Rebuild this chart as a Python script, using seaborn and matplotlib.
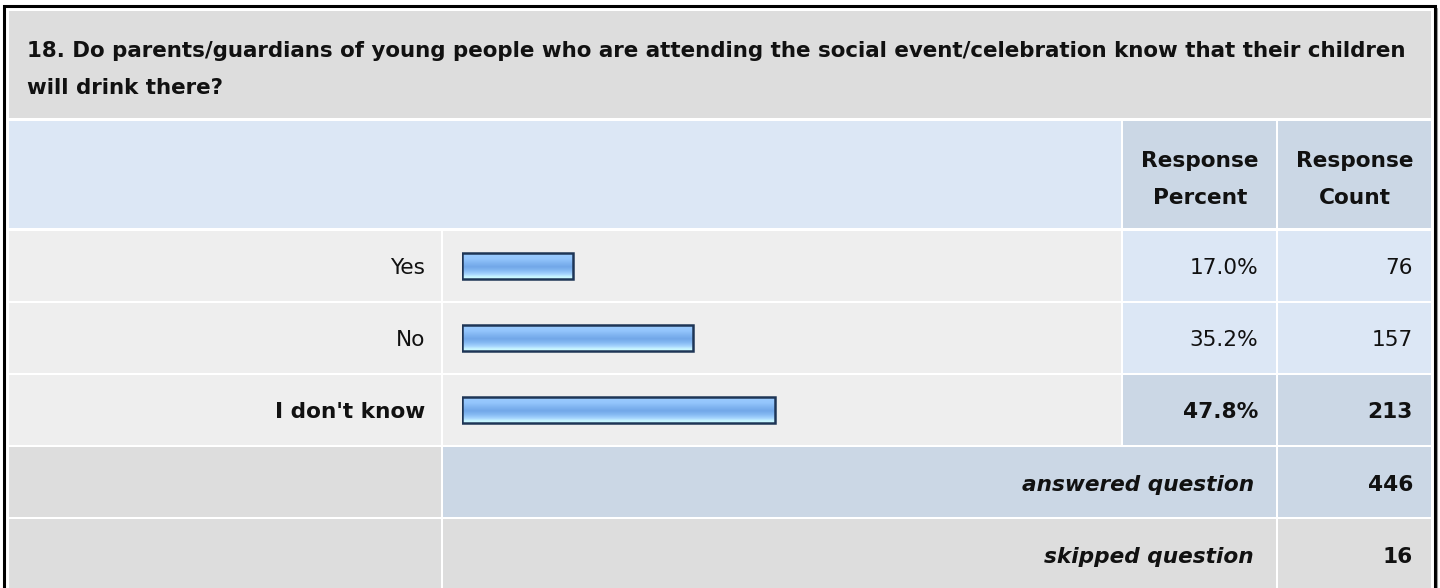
import numpy as np
import matplotlib
matplotlib.use("Agg")
import matplotlib.pyplot as plt
from matplotlib.patches import Rectangle
from matplotlib.colors import LinearSegmentedColormap
import seaborn as sns

# survey data
question_lines = [
    "18. Do parents/guardians of young people who are attending the social event/celebration know that their children",
    "will drink there?",
]
answers = ["Yes", "No", "I don't know"]
percents = [17.0, 35.2, 47.8]
counts = [76, 157, 213]
answered = 446
skipped = 16

sns.set_theme(style="white")
plt.rcParams['font.family'] = ['DejaVu Sans']
FS = 15.6
TITLE_FS = 15.4

GRAY = '#dddddd'
LIGHT = '#eeeeee'
BLUE = '#dce7f5'
BLUE2 = '#cbd7e5'
INK = '#111111'

fig = plt.figure(figsize=(14.4, 5.88), dpi=100)
fig.patch.set_facecolor('white')

# table background drawn in pixel coordinates
bg = fig.add_axes([0, 0, 1, 1])
bg.set_xlim(0, 1440)
bg.set_ylim(588, 0)
bg.axis('off')


def cell(x0, x1, y0, y1, c):
    bg.add_patch(Rectangle((x0, y0), x1 - x0, y1 - y0, facecolor=c, edgecolor='none'))


# outer frame
bg.add_patch(Rectangle((4, 6), 1431, 600, facecolor='white', edgecolor='black', linewidth=2.2))
bg.plot([1437, 1437], [8, 588], color='#999999', lw=0.8)

rows = [(231, 301), (303, 373), (375, 445)]

cell(9, 1431, 11, 118, GRAY)
cell(9, 1121, 121, 228, BLUE)
cell(1123, 1276, 121, 228, BLUE2)
cell(1278, 1431, 121, 228, BLUE2)

top = int(np.argmax(percents))
for i, (y0, y1) in enumerate(rows):
    c = BLUE2 if i == top else BLUE
    cell(9, 441, y0, y1, LIGHT)
    cell(443, 1121, y0, y1, LIGHT)
    cell(1123, 1276, y0, y1, c)
    cell(1278, 1431, y0, y1, c)

cell(9, 441, 447, 517, GRAY)
cell(443, 1276, 447, 517, BLUE2)
cell(1278, 1431, 447, 517, BLUE2)
cell(9, 441, 519, 590, GRAY)
cell(443, 1276, 519, 590, GRAY)
cell(1278, 1431, 519, 590, GRAY)

# title
for k, line in enumerate(question_lines):
    bg.text(27, 57 + 37 * k, line, fontsize=TITLE_FS, fontweight='bold', va='baseline', ha='left', color=INK)

# column headers
for cx, word in [(1200, "Percent"), (1355, "Count")]:
    bg.text(cx, 167, "Response", fontsize=FS, fontweight='bold', ha='center', va='baseline', color=INK)
    bg.text(cx, 204, word, fontsize=FS, fontweight='bold', ha='center', va='baseline', color=INK)

for i, (y0, y1) in enumerate(rows):
    yb = (y0 + y1) / 2 + 8
    w = 'bold' if i == top else 'normal'
    bg.text(425, yb, answers[i], fontsize=FS, fontweight=w, ha='right', va='baseline', color=INK)
    bg.text(1258, yb, f"{percents[i]:.1f}%", fontsize=FS, fontweight=w, ha='right', va='baseline', color=INK)
    bg.text(1413, yb, str(counts[i]), fontsize=FS, fontweight=w, ha='right', va='baseline', color=INK)

bg.text(1254, 491, "answered question", fontsize=FS, fontweight='bold', style='italic', ha='right', va='baseline', color=INK)
bg.text(1413, 491, str(answered), fontsize=FS, fontweight='bold', ha='right', va='baseline', color=INK)
bg.text(1254, 563, "skipped question", fontsize=FS, fontweight='bold', style='italic', ha='right', va='baseline', color=INK)
bg.text(1413, 563, str(skipped), fontsize=FS, fontweight='bold', ha='right', va='baseline', color=INK)

# bar axes: 0-100% spans the bar column
bax = fig.add_axes([462 / 1440, (588 - 446) / 588, 655 / 1440, 216 / 588])
sns.barplot(x=percents, y=answers, orient='h', width=0.37, color='#8fc0f8',
            edgecolor='#1e3556', linewidth=1.8, ax=bax)

grad = LinearSegmentedColormap.from_list('bar', [
    (0.0, '#9dcdff'), (0.25, '#93c5fc'), (0.42, '#7fb3f0'), (0.55, '#72a7e8'),
    (0.68, '#84b8f2'), (0.82, '#a3d2fd'), (0.92, '#c6f3ff'), (1.0, '#ccffff')])
g = grad(np.linspace(0, 1, 64))[:, None, :3]
for p in bax.patches:
    x, y, w, h = p.get_x(), p.get_y(), p.get_width(), p.get_height()
    im = bax.imshow(g, extent=[x, x + w, y + h, y], aspect='auto', origin='upper', zorder=1)
    im.set_clip_path(p)
    p.set_facecolor('none')
    p.set_zorder(2)

bax.set_xlim(0, 100)
bax.set_ylim(2.5, -0.5)
bax.axis('off')
bax.patch.set_alpha(0)

fig.savefig('out.png', dpi=100, facecolor='white')
